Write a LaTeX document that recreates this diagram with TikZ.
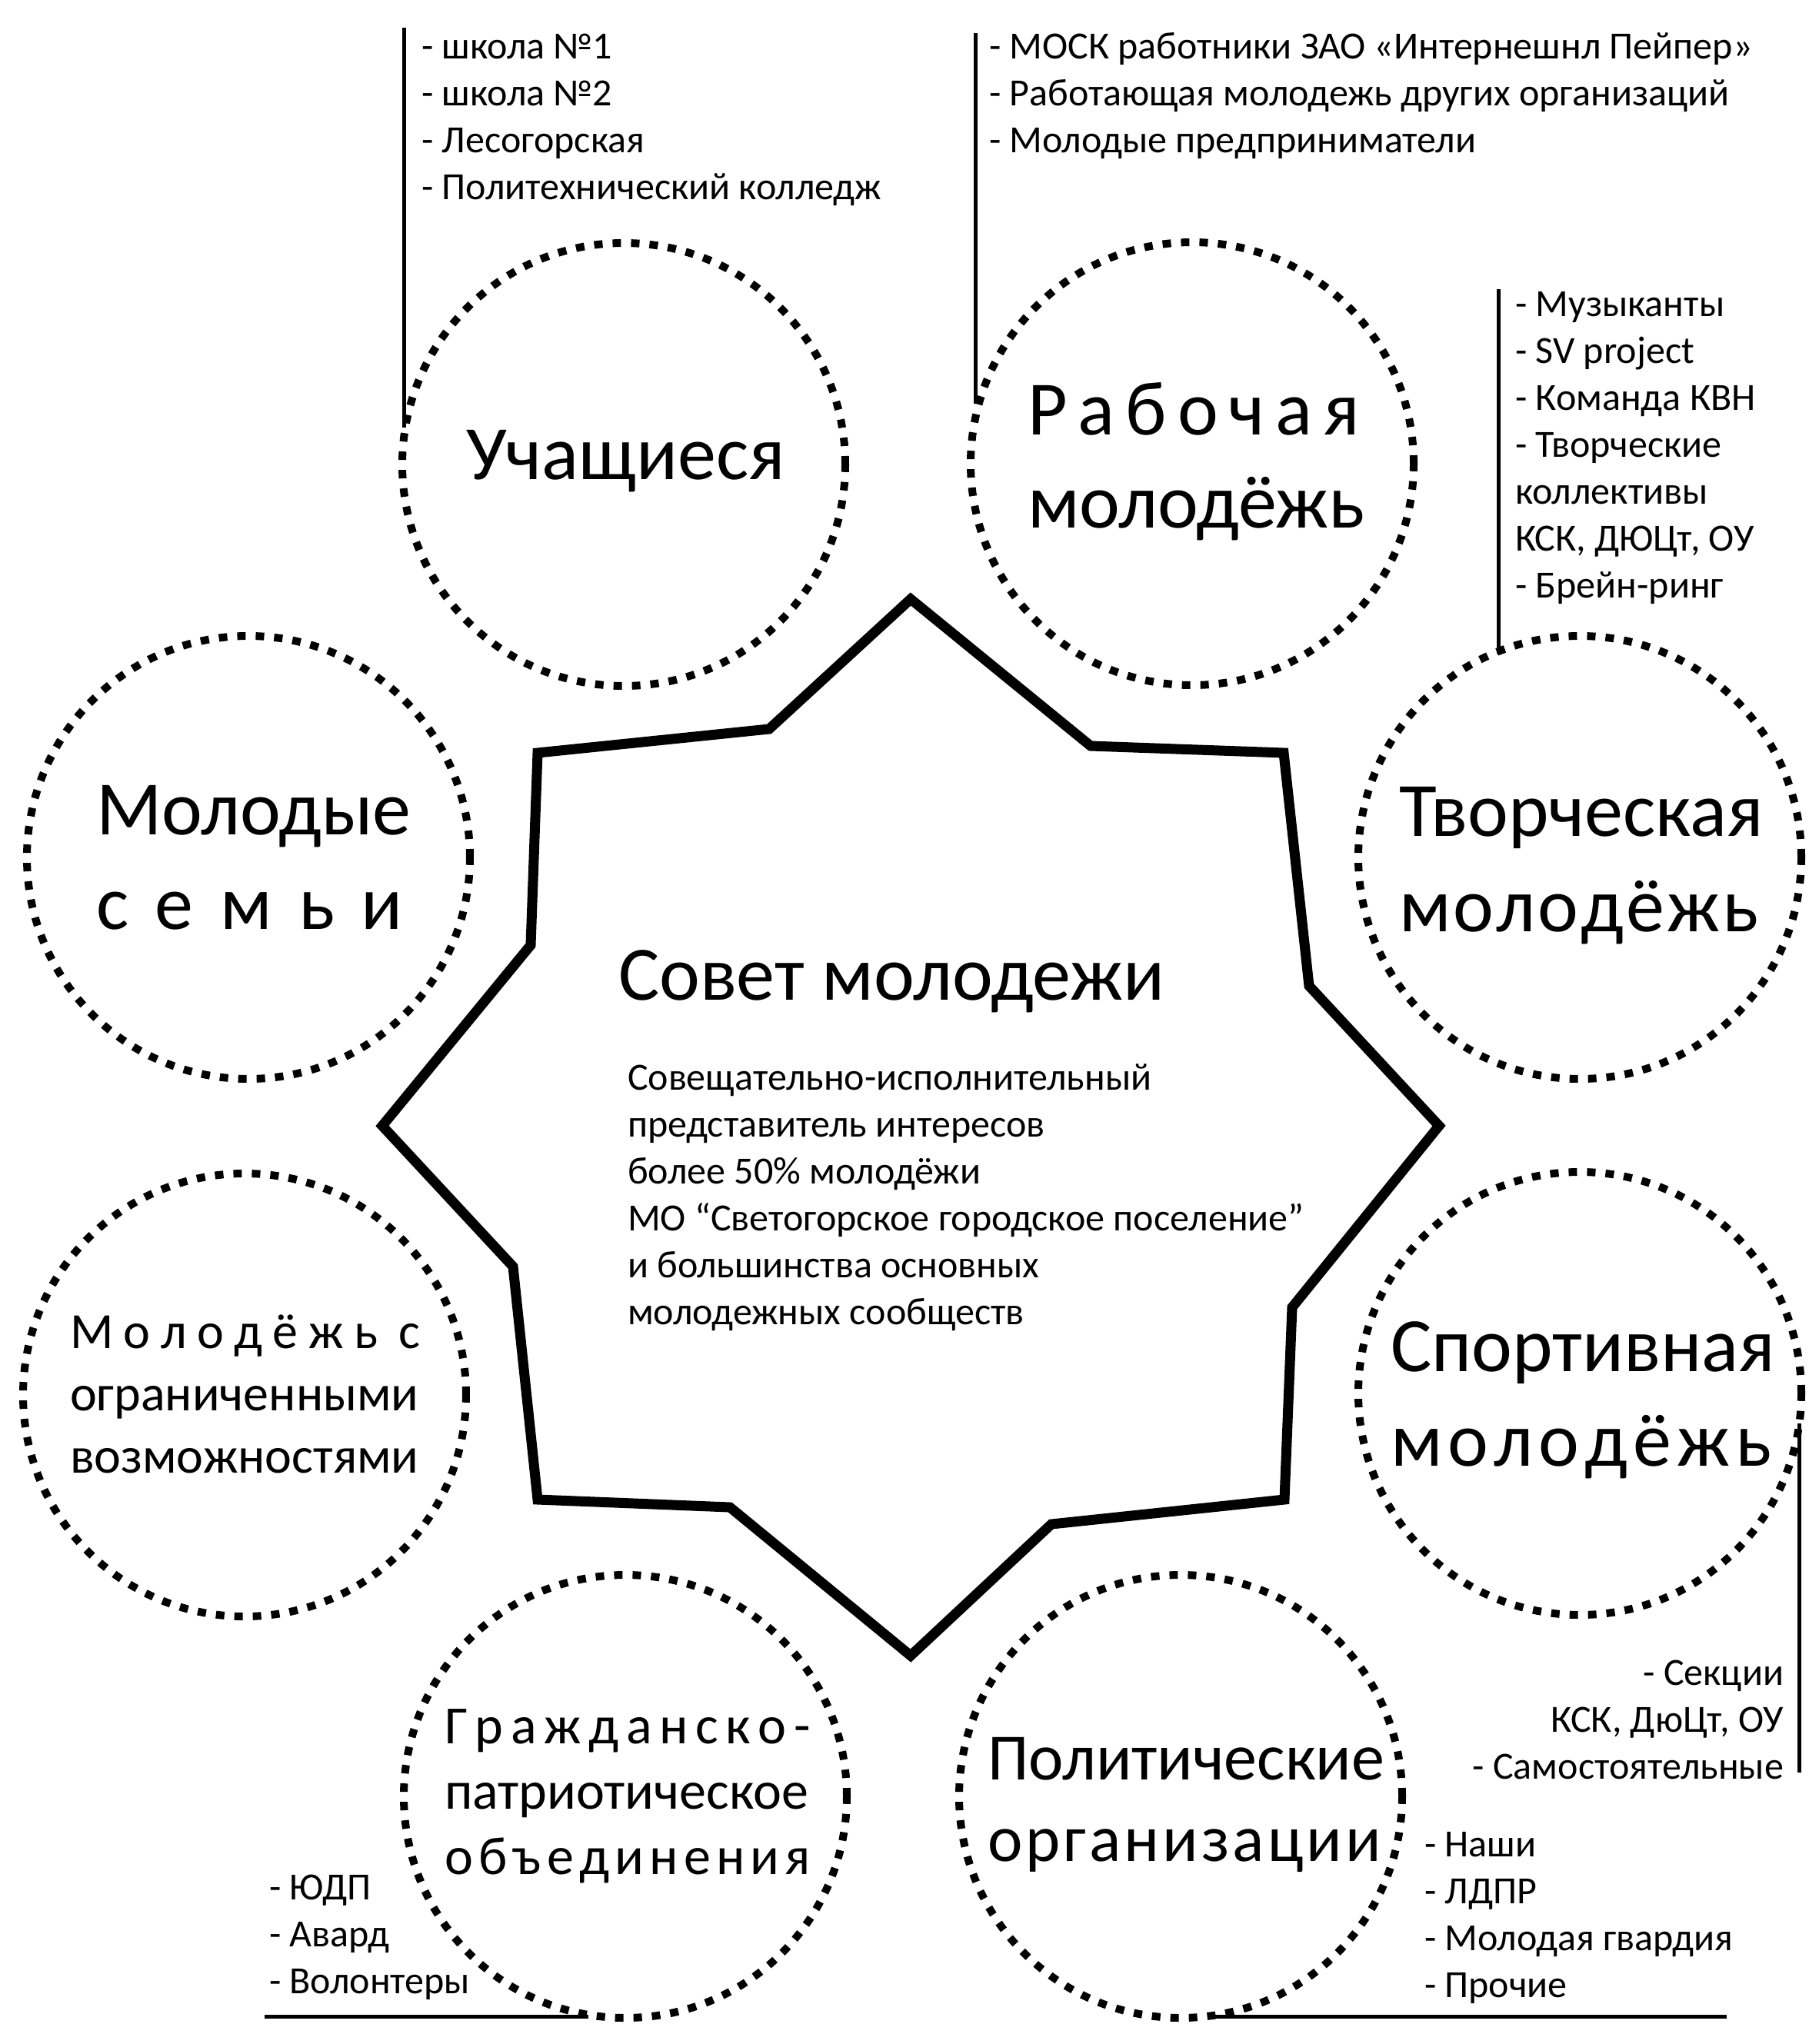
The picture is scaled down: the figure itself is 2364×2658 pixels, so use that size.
\documentclass[tikz,border=0pt]{standalone}
\usepackage{fontspec}
\setmainfont{Carlito}
\begin{document}
\begin{tikzpicture}[x=0.3pt,y=-0.3pt,
  bubble/.style={circle, draw, line width=3pt, dash pattern=on 3.3pt off 3.9pt, minimum size=172.8pt, inner sep=0pt},
  listline/.style={line width=1.5pt},
  starline/.style={line width=3.9pt, line join=miter},
  txt/.style={inner sep=0pt, outer sep=0pt},
  small/.style={txt, font=\fontsize{15}{18.3}\selectfont},
  big/.style={txt, font=\fontsize{30}{#1}\selectfont},
  big/.default=36.9pt]
\useasboundingbox (0,0) rectangle (2364,2658);

% star
\draw[starline] (1184,779) -- (1418,970) -- (1669,979) -- (1702,1282) -- (1871,1464)
  -- (1680,1700) -- (1670,1950) -- (1367,1982) -- (1184,2153) -- (949,1960)
  -- (699,1950) -- (667,1647) -- (497,1464) -- (690,1229) -- (699,979) -- (1000,948) -- cycle;

% circles
\node[bubble] (cU) at (811,604) {};
\node[bubble] (cR) at (1550,603) {};
\node[bubble] (cM) at (323,1115) {};
\node[bubble] (cT) at (2054,1115) {};
\node[bubble] (cO) at (318,1814) {};
\node[bubble] (cS) at (2054,1812) {};
\node[bubble] (cG) at (813,2336) {};
\node[bubble] (cP) at (1535,2336) {};

% circle texts
\node[big, anchor=base] (tU) at (814,623) {Учащиеся};
\node[big=36.3pt, anchor=base west] (tR) at (1336,565) {\begin{tabular}[t]{@{}l@{}}\makebox[129.6pt][s]{Р\hfill а\hfill б\hfill о\hfill ч\hfill а\hfill я}\\ молодёжь\end{tabular}};
\node[big=36.9pt, anchor=base west] (tM) at (125,1085) {\begin{tabular}[t]{@{}l@{}}Молодые\\ \makebox[119.7pt][s]{с\hfill е\hfill м\hfill ь\hfill и}\end{tabular}};
\node[big=37.2pt, anchor=base west] (tT) at (1819,1087) {\begin{tabular}[t]{@{}l@{}}Творческая\\ \makebox[140.4pt][s]{м\hfill о\hfill л\hfill о\hfill д\hfill ё\hfill ж\hfill ь}\end{tabular}};
\node[txt, font=\fontsize{19.8}{24.3}\selectfont, anchor=base west] (tO) at (91,1753) {\begin{tabular}[t]{@{}l@{}}\makebox[136.5pt][s]{М\hfill о\hfill л\hfill о\hfill д\hfill ё\hfill ж\hfill ь\hfill\hfill с}\\ ограниченными\\ возможностями\end{tabular}};
\node[big=36.9pt, anchor=base west] (tS) at (1808,1783) {\begin{tabular}[t]{@{}l@{}}Спортивная\\ \makebox[148.8pt][s]{м\hfill о\hfill л\hfill о\hfill д\hfill ё\hfill ж\hfill ь}\end{tabular}};
\node[txt, font=\fontsize{21}{25.5}\selectfont, anchor=base west] (tG) at (578,2267) {\begin{tabular}[t]{@{}l@{}}\makebox[142.8pt][s]{Г\hfill р\hfill а\hfill ж\hfill д\hfill а\hfill н\hfill с\hfill к\hfill о\hfill -}\\ патриотическое\\ \makebox[142.8pt][s]{о\hfill б\hfill ъ\hfill е\hfill д\hfill и\hfill н\hfill е\hfill н\hfill и\hfill я}\end{tabular}};
\node[txt, font=\fontsize{25.8}{31.8}\selectfont, anchor=base west] (tP) at (1284,2314) {\begin{tabular}[t]{@{}l@{}}Политические\\ \makebox[153.6pt][s]{о\hfill р\hfill г\hfill а\hfill н\hfill и\hfill з\hfill а\hfill ц\hfill и\hfill и}\end{tabular}};

% centre
\node[big, anchor=base west] (title) at (804,1300) {Совет молодежи};
\node[small, anchor=base west] (desc) at (816,1417) {\begin{tabular}[t]{@{}l@{}}Совещательно-исполнительный\\ представитель интересов\\ более 50\% молодёжи\\ МО “Светогорское городское поселение”\\ и большинства основных\\ молодежных сообществ\end{tabular}};

% lists
\node[small, anchor=base west] (lU) at (548,76) {\begin{tabular}[t]{@{}l@{}}- школа №1\\ - школа №2\\ - Лесогорская\\ - Политехнический колледж\end{tabular}};
\node[small, anchor=base west] (lR) at (1286,76) {\begin{tabular}[t]{@{}l@{}}- МОСК работники ЗАО «Интернешнл Пейпер»\\ - Работающая молодежь других организаций\\ - Молодые предприниматели\end{tabular}};
\node[small, anchor=base west] (lT) at (1970,411) {\begin{tabular}[t]{@{}l@{}}- Музыканты\\ - SV project\\ - Команда КВН\\ - Творческие\\ коллективы\\ КСК, ДЮЦт, ОУ\\ - Брейн-ринг\end{tabular}};
\node[small, anchor=base east] (lS) at (2319,2191) {\begin{tabular}[t]{@{}r@{}}- Секции\\ КСК, ДюЦт, ОУ\\ - Самостоятельные\end{tabular}};
\node[small, anchor=base west] (lP) at (1852,2414) {\begin{tabular}[t]{@{}l@{}}- Наши\\ - ЛДПР\\ - Молодая гвардия\\ - Прочие\end{tabular}};
\node[small, anchor=base west] (lG) at (350,2470) {\begin{tabular}[t]{@{}l@{}}- ЮДП\\ - Авард\\ - Волонтеры\end{tabular}};

% list lines
\coordinate (aU1) at (525,36);  \coordinate (aU2) at (525,556);
\coordinate (aR1) at (1268,43); \coordinate (aR2) at (1268,525);
\coordinate (aT1) at (1948,376); \coordinate (aT2) at (1948,850);
\coordinate (aS1) at (2339,1851); \coordinate (aS2) at (2339,2305);
\coordinate (aP1) at (1570,2622); \coordinate (aP2) at (2245,2622);
\coordinate (aG1) at (344,2622); \coordinate (aG2) at (765,2622);
\draw[listline] (aU1) -- (aU2);
\draw[listline] (aR1) -- (aR2);
\draw[listline] (aT1) -- (aT2);
\draw[listline] (aS1) -- (aS2);
\draw[listline] (aP1) -- (aP2);
\draw[listline] (aG1) -- (aG2);
\end{tikzpicture}
\end{document}
